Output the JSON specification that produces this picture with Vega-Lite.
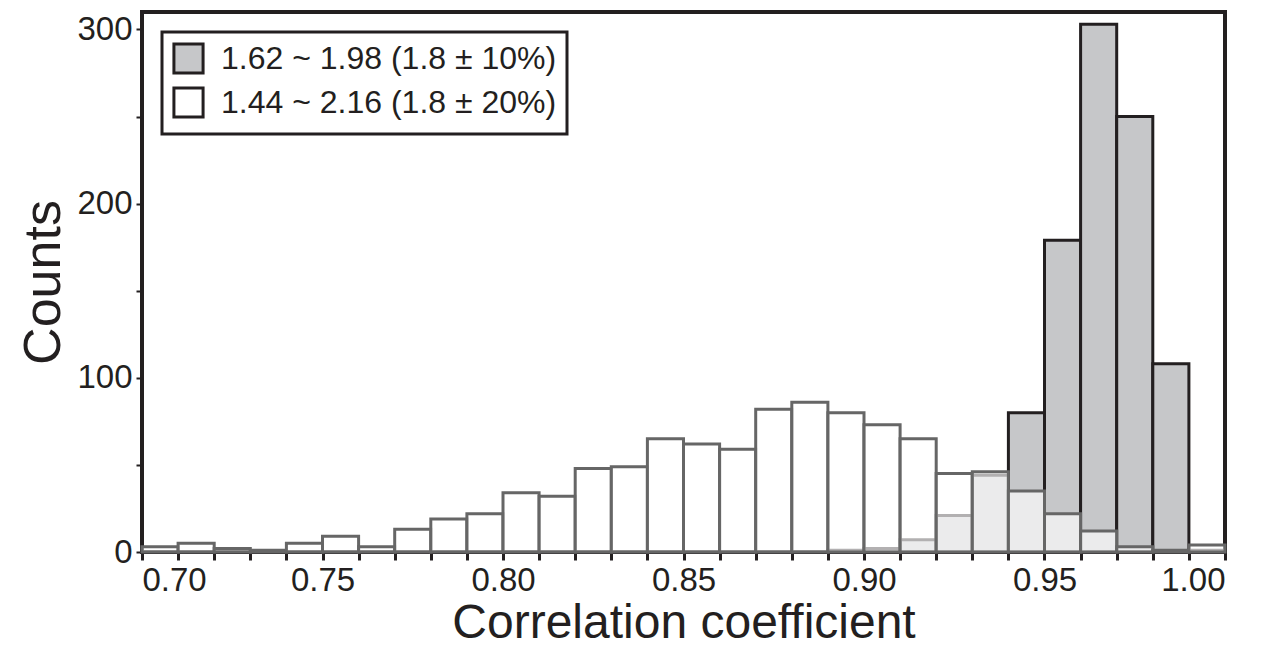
{
  "$schema": "https://vega.github.io/schema/vega-lite/v6.json",
  "width": 1083,
  "height": 540,
  "autosize": "none",
  "padding": {"left": 142, "top": 12, "right": 38, "bottom": 106},
  "config": {
    "font": "Liberation Sans",
    "view": {"stroke": "#231f20", "strokeWidth": 4},
    "legend": {"strokeWidth": 3}
  },
  "data": {
    "values": [
      {"series": "1.44 ~ 2.16 (1.8 ± 20%)", "lo": 0.70, "hi": 0.71, "count": 3},
      {"series": "1.44 ~ 2.16 (1.8 ± 20%)", "lo": 0.71, "hi": 0.72, "count": 5},
      {"series": "1.44 ~ 2.16 (1.8 ± 20%)", "lo": 0.72, "hi": 0.73, "count": 2},
      {"series": "1.44 ~ 2.16 (1.8 ± 20%)", "lo": 0.73, "hi": 0.74, "count": 1},
      {"series": "1.44 ~ 2.16 (1.8 ± 20%)", "lo": 0.74, "hi": 0.75, "count": 5},
      {"series": "1.44 ~ 2.16 (1.8 ± 20%)", "lo": 0.75, "hi": 0.76, "count": 9},
      {"series": "1.44 ~ 2.16 (1.8 ± 20%)", "lo": 0.76, "hi": 0.77, "count": 3},
      {"series": "1.44 ~ 2.16 (1.8 ± 20%)", "lo": 0.77, "hi": 0.78, "count": 13},
      {"series": "1.44 ~ 2.16 (1.8 ± 20%)", "lo": 0.78, "hi": 0.79, "count": 19},
      {"series": "1.44 ~ 2.16 (1.8 ± 20%)", "lo": 0.79, "hi": 0.80, "count": 22},
      {"series": "1.44 ~ 2.16 (1.8 ± 20%)", "lo": 0.80, "hi": 0.81, "count": 34},
      {"series": "1.44 ~ 2.16 (1.8 ± 20%)", "lo": 0.81, "hi": 0.82, "count": 32},
      {"series": "1.44 ~ 2.16 (1.8 ± 20%)", "lo": 0.82, "hi": 0.83, "count": 48},
      {"series": "1.44 ~ 2.16 (1.8 ± 20%)", "lo": 0.83, "hi": 0.84, "count": 49},
      {"series": "1.44 ~ 2.16 (1.8 ± 20%)", "lo": 0.84, "hi": 0.85, "count": 65},
      {"series": "1.44 ~ 2.16 (1.8 ± 20%)", "lo": 0.85, "hi": 0.86, "count": 62},
      {"series": "1.44 ~ 2.16 (1.8 ± 20%)", "lo": 0.86, "hi": 0.87, "count": 59},
      {"series": "1.44 ~ 2.16 (1.8 ± 20%)", "lo": 0.87, "hi": 0.88, "count": 82},
      {"series": "1.44 ~ 2.16 (1.8 ± 20%)", "lo": 0.88, "hi": 0.89, "count": 86},
      {"series": "1.44 ~ 2.16 (1.8 ± 20%)", "lo": 0.89, "hi": 0.90, "count": 80},
      {"series": "1.44 ~ 2.16 (1.8 ± 20%)", "lo": 0.90, "hi": 0.91, "count": 73},
      {"series": "1.44 ~ 2.16 (1.8 ± 20%)", "lo": 0.91, "hi": 0.92, "count": 65},
      {"series": "1.44 ~ 2.16 (1.8 ± 20%)", "lo": 0.92, "hi": 0.93, "count": 45},
      {"series": "1.44 ~ 2.16 (1.8 ± 20%)", "lo": 0.93, "hi": 0.94, "count": 46},
      {"series": "1.44 ~ 2.16 (1.8 ± 20%)", "lo": 0.94, "hi": 0.95, "count": 35},
      {"series": "1.44 ~ 2.16 (1.8 ± 20%)", "lo": 0.95, "hi": 0.96, "count": 22},
      {"series": "1.44 ~ 2.16 (1.8 ± 20%)", "lo": 0.96, "hi": 0.97, "count": 12},
      {"series": "1.44 ~ 2.16 (1.8 ± 20%)", "lo": 0.97, "hi": 0.98, "count": 3},
      {"series": "1.44 ~ 2.16 (1.8 ± 20%)", "lo": 0.98, "hi": 0.99, "count": 1},
      {"series": "1.44 ~ 2.16 (1.8 ± 20%)", "lo": 0.99, "hi": 1.00, "count": 4},
      {"series": "1.62 ~ 1.98 (1.8 ± 10%)", "lo": 0.89, "hi": 0.90, "count": 1},
      {"series": "1.62 ~ 1.98 (1.8 ± 10%)", "lo": 0.90, "hi": 0.91, "count": 2},
      {"series": "1.62 ~ 1.98 (1.8 ± 10%)", "lo": 0.91, "hi": 0.92, "count": 7},
      {"series": "1.62 ~ 1.98 (1.8 ± 10%)", "lo": 0.92, "hi": 0.93, "count": 21},
      {"series": "1.62 ~ 1.98 (1.8 ± 10%)", "lo": 0.93, "hi": 0.94, "count": 44},
      {"series": "1.62 ~ 1.98 (1.8 ± 10%)", "lo": 0.94, "hi": 0.95, "count": 80},
      {"series": "1.62 ~ 1.98 (1.8 ± 10%)", "lo": 0.95, "hi": 0.96, "count": 179},
      {"series": "1.62 ~ 1.98 (1.8 ± 10%)", "lo": 0.96, "hi": 0.97, "count": 303},
      {"series": "1.62 ~ 1.98 (1.8 ± 10%)", "lo": 0.97, "hi": 0.98, "count": 250},
      {"series": "1.62 ~ 1.98 (1.8 ± 10%)", "lo": 0.98, "hi": 0.99, "count": 108},
      {"series": "1.62 ~ 1.98 (1.8 ± 10%)", "lo": 0.99, "hi": 1.00, "count": 1}
    ]
  },
  "encoding": {
    "x": {
      "field": "lo", "type": "quantitative",
      "scale": {"domain": [0.7, 1.0], "nice": false},
      "axis": {
        "title": "Correlation coefficient", "titleFontSize": 48, "titleFontWeight": "normal", "titleColor": "#231f20", "titlePadding": 2,
        "values": [0.70,0.71,0.72,0.73,0.74,0.75,0.76,0.77,0.78,0.79,0.80,0.81,0.82,0.83,0.84,0.85,0.86,0.87,0.88,0.89,0.90,0.91,0.92,0.93,0.94,0.95,0.96,0.97,0.98,0.99,1.00],
        "format": ".2f",
        "labelExpr": "round(datum.value*100) % 5 == 0 ? datum.label : ''",
        "labelFontSize": 33, "labelColor": "#231f20", "labelPadding": 4,
        "tickColor": "#231f20", "tickWidth": 3, "tickSize": 8, "domain": false, "grid": false
      }
    },
    "x2": {"field": "hi"},
    "y": {
      "field": "count", "type": "quantitative",
      "scale": {"domain": [0, 310], "nice": false},
      "axis": {
        "title": "Counts", "titleFontSize": 52, "titleFontWeight": "normal", "titleColor": "#231f20", "titlePadding": 6,
        "values": [0, 50, 100, 150, 200, 250, 300],
        "labelExpr": "datum.value % 100 == 0 ? datum.label : ''",
        "labelFontSize": 33, "labelColor": "#231f20", "labelPadding": 4,
        "tickColor": "#231f20", "tickWidth": 2, "tickSize": 6, "domain": false, "grid": false
      }
    },
    "y2": {"datum": 0},
    "fill": {
      "field": "series", "type": "nominal",
      "scale": {"domain": ["1.62 ~ 1.98 (1.8 ± 10%)", "1.44 ~ 2.16 (1.8 ± 20%)"], "range": ["#c6c7c9", "#ffffff"]},
      "legend": {
        "title": null, "orient": "top-left", "offset": 20,
        "labelFontSize": 32, "labelColor": "#231f20", "labelLimit": 0, "labelOffset": 16,
        "symbolType": "square", "symbolSize": 850, "symbolStrokeColor": "#231f20", "symbolStrokeWidth": 3, "symbolOpacity": 1,
        "strokeColor": "#231f20", "fillColor": "white", "padding": 10, "rowPadding": 1
      }
    }
  },
  "layer": [
    {
      "transform": [{"filter": "indexof(datum.series, '10%') >= 0"}],
      "mark": {"type": "bar", "stroke": "#231f20", "strokeWidth": 3}
    },
    {
      "transform": [{"filter": "indexof(datum.series, '20%') >= 0"}],
      "mark": {"type": "bar", "stroke": "#666666", "strokeWidth": 3, "fillOpacity": 0.65}
    }
  ]
}
